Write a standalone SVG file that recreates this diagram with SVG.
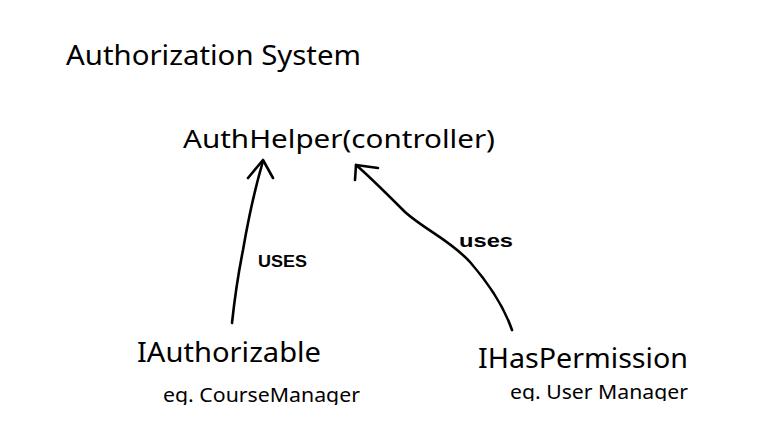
<svg xmlns="http://www.w3.org/2000/svg" width="761" height="436" viewBox="0 0 761 436">
<style>
.t{font-family:"Noto Sans","Open Sans","Liberation Sans",sans-serif;fill:#000}
.h{font-family:"Liberation Sans","DejaVu Sans",sans-serif;font-weight:bold;fill:#000}
.c{fill:none;stroke:#000;stroke-width:2.6;stroke-linecap:round;stroke-linejoin:round}
</style>
<defs>
<clipPath id="cl1"><rect x="0" y="0" width="761" height="405"/></clipPath>
<clipPath id="cl2"><rect x="0" y="0" width="761" height="401"/></clipPath>
</defs>
<rect width="761" height="436" fill="#fff"/>
<g id="title"><text class="t" x="66" y="65" font-size="27" textLength="295" lengthAdjust="spacingAndGlyphs">Authorization System</text></g>
<g id="authhelper"><text class="t" x="183" y="148" font-size="26" textLength="312" lengthAdjust="spacingAndGlyphs">AuthHelper(controller)</text></g>
<g id="iauthorizable"><text class="t" x="137" y="362" font-size="28" textLength="184" lengthAdjust="spacingAndGlyphs">IAuthorizable</text>
<text class="t" x="163" y="402" font-size="19" textLength="197" lengthAdjust="spacingAndGlyphs" clip-path="url(#cl1)">eg. CourseManager</text></g>
<g id="ihaspermission"><text class="t" x="478" y="368" font-size="28" textLength="210" lengthAdjust="spacingAndGlyphs">IHasPermission</text>
<text class="t" x="510" y="399" font-size="19" textLength="178" lengthAdjust="spacingAndGlyphs" clip-path="url(#cl2)">eg. User Manager</text></g>
<g id="connectors">
<path class="c" d="M232,323 C235,295 239,270 243,250 C249,215 256,185 263,161"/>
<path class="c" d="M248,178 L263,160 L273,178"/>
<path class="c" d="M512,330 C505,310 490,285 470,262 C450,240 425,230 405,212 C385,192 368,175 356,165"/>
<path class="c" d="M355,180 L356,165 L378,168"/>
<text class="h" x="258" y="267" font-size="17" textLength="49" lengthAdjust="spacingAndGlyphs">USES</text>
<text class="h" x="459" y="247" font-size="18" textLength="54" lengthAdjust="spacingAndGlyphs">uses</text>
</g>
</svg>
